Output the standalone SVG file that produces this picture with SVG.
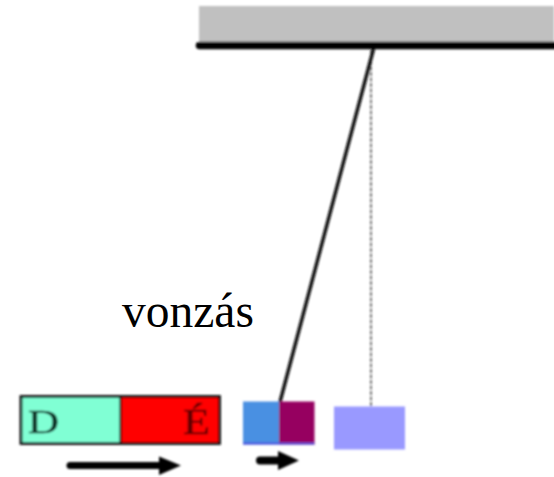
<svg xmlns="http://www.w3.org/2000/svg" width="554" height="477" viewBox="0 0 554 477">
<defs>
<style>
.lbl{font-family:"Liberation Serif","Times New Roman",serif}
.arrow{fill:none;stroke:#000;stroke-linecap:round}
</style>
<filter id="soft" x="-5%" y="-5%" width="110%" height="110%"><feGaussianBlur stdDeviation="0.8"/></filter>
</defs>
<rect width="554" height="477" fill="#fff"/>
<g filter="url(#soft)">
<g id="ceiling">
<rect x="199" y="6" width="355" height="36" fill="#c0c0c0"/>
<path d="M199.500 45.500H560" stroke="#000" stroke-width="7.500" stroke-linecap="round" fill="none"/>
</g>
<g id="connectors">
<path d="M371 50V406" stroke="#555" stroke-width="1.600" stroke-dasharray="4 1.500" fill="none"/>
<path d="M373.500 49L280 402" stroke="#111" stroke-width="3.500" fill="none"/>
<path class="arrow" d="M70 465.500H170" stroke-width="7"/>
<path d="M159 456.500L181 465.500L159 475Z" fill="#000"/>
<path class="arrow" d="M260 460.500H285" stroke-width="8"/>
<path d="M278 451L299 460.500L278 470Z" fill="#000"/>
</g>
<g id="magnet">
<rect x="21" y="396.500" width="99.500" height="47" fill="#80ffd4"/>
<rect x="120.500" y="396.500" width="99" height="47" fill="#f00"/>
<rect x="21" y="396.500" width="198.500" height="47" fill="none" stroke="#111" stroke-width="2.800"/>
<path d="M120.500 396.500V443.500" stroke="#111" stroke-width="2.200"/>
<text class="lbl" x="28" y="433" font-size="34" textLength="31" lengthAdjust="spacingAndGlyphs" fill="#0c3328" stroke="#0c3328" stroke-width="0.500">D</text>
<text class="lbl" x="183" y="434" font-size="35" textLength="27" lengthAdjust="spacingAndGlyphs" fill="#600000" stroke="#600000" stroke-width="0.500">É</text>
</g>
<g id="bob-attracted">
<rect x="243" y="401.500" width="36" height="43" fill="#4a90e2"/>
<rect x="279" y="401.500" width="35.500" height="43" fill="#960060"/>
<path d="M243 443.500H314.500" stroke="#5050e0" stroke-width="2"/>
</g>
<g id="bob-rest">
<rect x="334" y="406.500" width="71" height="43" fill="#9999ff"/>
</g>
</g>
<g id="label">
<text class="lbl" x="122" y="327" font-size="47.500" fill="#000">vonzás</text>
</g>
</svg>
